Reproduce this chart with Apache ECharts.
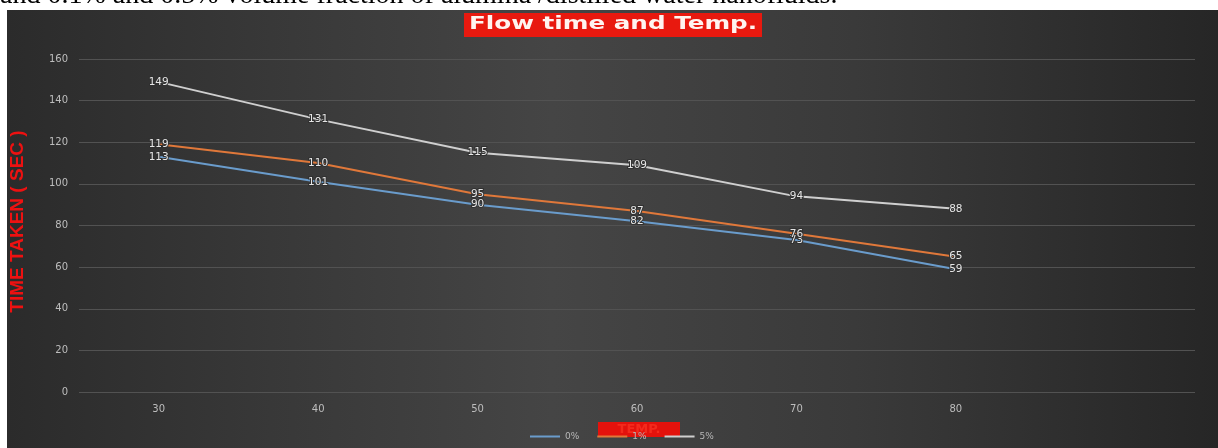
<!DOCTYPE html>
<html>
<head>
<meta charset="utf-8">
<script src="https://cdn.jsdelivr.net/npm/echarts@6/dist/echarts.min.js"></script>
<style>
  html, body { margin: 0; padding: 0; background: #ffffff; }
  #chart { width: 1218px; height: 448px; }
</style>
</head>
<body>
<div id="chart"></div>
<script>
// Temperature categories (last slot left empty as spare space on the axis)
const temps = ['30', '40', '50', '60', '70', '80', ''];
const yTicks = [0, 20, 40, 60, 80, 100, 120, 140, 160];

// Flow time in seconds for each sample
const seriesNames = ['0%', '1%', '5%'];
const timeA = [113, 101, 90, 82, 73, 59];
const timeB = [119, 110, 95, 87, 76, 65];
const timeC = [149, 131, 115, 109, 94, 88];

const colors = ['#6a9ccc', '#e0783a', '#cfcfcf'];

const chart = echarts.init(document.getElementById('chart'), null, { renderer: 'canvas' });

function lineSeries(name, data, color) {
  return {
    name: name,
    type: 'line',
    data: data,
    symbol: 'circle',
    symbolSize: 1,
    showSymbol: true,
    lineStyle: { color: color, width: 2 },
    itemStyle: { color: color },
    label: {
      show: true,
      position: 'inside',
      color: '#e6e6e6',
      fontSize: 10.5,
      fontFamily: 'DejaVu Sans',
      textBorderColor: '#303030',
      textBorderWidth: 2
    },
    labelLayout: { hideOverlap: false },
    z: 3
  };
}

chart.setOption({
  backgroundColor: '#ffffff',
  animation: false,
  graphic: [
    {
      type: 'rect',
      z: -10,
      silent: true,
      shape: { x: 7, y: 10, width: 1211, height: 438 },
      style: {
        fill: {
          type: 'linear', x: 0, y: 0, x2: 1, y2: 0,
          colorStops: [
            { offset: 0, color: '#2b2b2b' },
            { offset: 0.2, color: '#373737' },
            { offset: 0.45, color: '#454545' },
            { offset: 0.7, color: '#3a3a3a' },
            { offset: 1, color: '#262626' }
          ]
        }
      }
    },
    {
      type: 'text',
      z: -5,
      silent: true,
      left: 0,
      top: -18,
      style: {
        text: 'and 0.1% and 0.5% volume fraction of alumina /distilled water nanofluids.',
        fill: '#000000',
        font: '28px "Liberation Serif"'
      }
    },
    {
      type: 'group',
      left: 464,
      top: 13,
      children: [
        { type: 'rect', shape: { x: 0, y: 0, width: 298, height: 24 }, style: { fill: '#e8190f' } },
        {
          type: 'text',
          x: 149, y: 12,
          scaleX: 1.45,
          originX: 0,
          style: {
            text: 'Flow time and Temp.',
            fill: '#fff4f0',
            font: 'bold 17px "DejaVu Sans"',
            align: 'center',
            verticalAlign: 'middle'
          }
        }
      ]
    },
    {
      type: 'group',
      left: 598,
      top: 422,
      z: 20,
      children: [
        { type: 'rect', shape: { x: 0, y: 0, width: 82, height: 15 }, style: { fill: '#e4120c' } },
        {
          type: 'text',
          x: 41, y: 7.5,
          style: {
            text: 'TEMP.',
            fill: '#f42a1c',
            font: 'bold 13px "DejaVu Sans"',
            align: 'center',
            verticalAlign: 'middle'
          }
        }
      ]
    }
  ],
  legend: {
    data: seriesNames,
    bottom: 2,
    left: 525,
    itemWidth: 30,
    itemHeight: 2,
    itemGap: 18,
    icon: 'rect',
    textStyle: { color: '#b8b8b8', fontSize: 9, fontFamily: 'DejaVu Sans' }
  },
  grid: { left: 77, right: 23, top: 59, bottom: 56 },
  xAxis: {
    type: 'category',
    data: temps,
    boundaryGap: true,
    axisLine: { show: false },
    axisTick: { show: false },
    axisLabel: { color: '#bdbdbd', fontSize: 10, fontFamily: 'DejaVu Sans', margin: 12 },
    splitLine: { show: false }
  },
  yAxis: {
    type: 'value',
    min: yTicks[0],
    max: yTicks[yTicks.length - 1],
    interval: 20,
    name: 'TIME TAKEN ( SEC )',
    nameLocation: 'middle',
    nameGap: 52,
    nameRotate: 90,
    nameTextStyle: { color: '#ee1111', fontSize: 19, fontWeight: 'bold', fontFamily: 'Liberation Sans', padding: [0, 0, 0, 8] },
    axisLine: { show: false },
    axisTick: { show: false },
    axisLabel: { color: '#bdbdbd', fontSize: 10, fontFamily: 'DejaVu Sans', margin: 11 },
    splitLine: { lineStyle: { color: '#525252', width: 1 } }
  },
  series: [
    lineSeries(seriesNames[0], timeA, colors[0]),
    lineSeries(seriesNames[1], timeB, colors[1]),
    lineSeries(seriesNames[2], timeC, colors[2])
  ]
});
</script>
</body>
</html>
